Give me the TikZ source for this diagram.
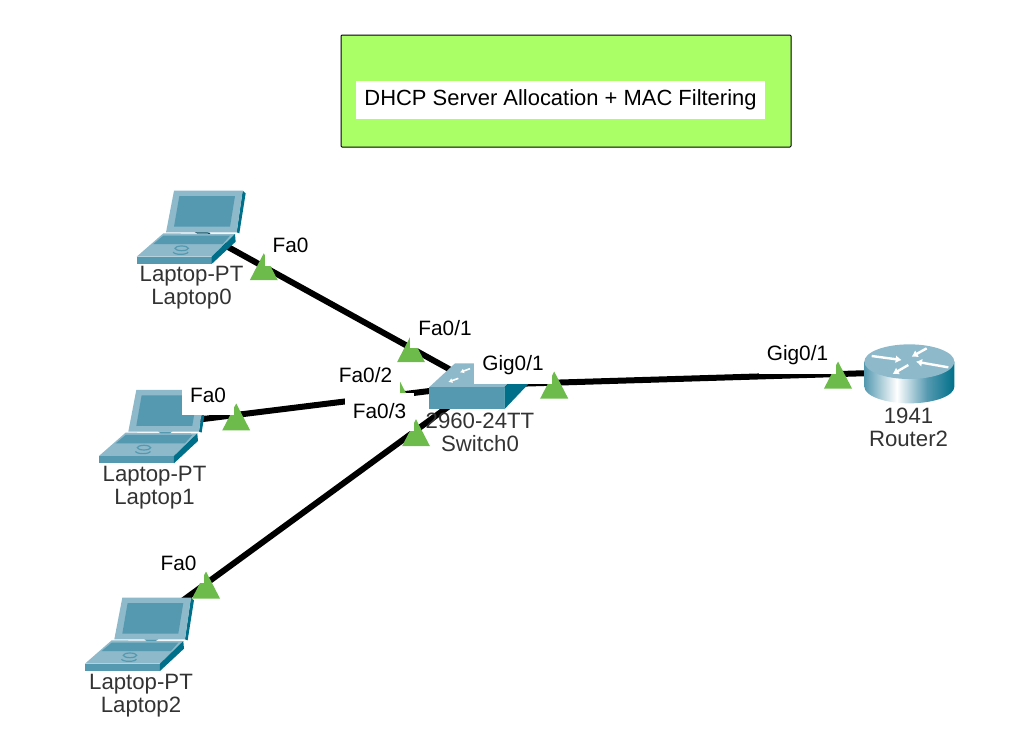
\documentclass[tikz,border=0pt]{standalone}
\usepackage{fontspec}
\setmainfont{Liberation Sans}
\usetikzlibrary{shapes.geometric, arrows.meta}
\definecolor{ptlight}{HTML}{8DB9CA}
\definecolor{ptmid}{HTML}{5499B0}
\definecolor{ptdark}{HTML}{00708A}
\definecolor{ptgreen}{HTML}{6CBB4B}
\definecolor{ptnote}{HTML}{AAFF66}
\pgfdeclarehorizontalshading{routerside}{100bp}{
  color(0bp)=(ptmid); color(25bp)=(ptmid); color(43bp)=(white);
  color(60bp)=(ptmid); color(75bp)=(ptdark); color(100bp)=(ptdark)}
\tikzset{
  laptop/.pic={
    \begin{scope}[x=0.3333pt, y=-0.3333pt, shift={(-210,-168)}]
      \fill[ptdark] (368,62)--(377,70)--(358,190)--(350,187)--cycle;
      \fill[ptlight] (162,62)--(368,62)--(350,187)--(138,187)--cycle;
      \fill[ptmid] (178,78)--(345,78)--(330,170)--(162,170)--cycle;
      \fill[ptlight] (50,260)--(130,190)--(345,192)--(275,260)--cycle;
      \fill[ptmid] (100,222)--(130,197)--(330,197)--(308,222)--cycle;
      \fill[ptmid] (228,187)--(270,187)--(262,192)--(235,192)--cycle;
      \fill[ptmid] (50,260)--(275,260)--(275,282)--(50,282)--cycle;
      \fill[ptdark] (275,260)--(345,192)--(347,215)--(275,282)--cycle;
      \draw[ptmid, line width=1.2pt] (185,235) ellipse (20 and 7);
      \draw[ptmid, line width=1.2pt] (160,246) arc (180:0:22 and 7);
    \end{scope}
  },
  switchbox/.pic={
    \begin{scope}[x=0.3333pt, y=-0.3333pt, shift={(-474,-225)}]
      \fill[ptlight] (327,232)--(405,160)--(625,160)--(553,232)--cycle;
      \fill[ptmid] (327,232)--(553,232)--(553,298)--(327,298)--cycle;
      \fill[ptdark] (553,232)--(625,160)--(625,222)--(553,298)--cycle;
      \draw[swarrow] (415,205)--(385,216);
      \draw[swarrow] (450,176)--(420,187);
    \end{scope}
  },
  routerdrum/.pic={
    \begin{scope}[x=0.3333pt, y=-0.3333pt, shift={(-465,-126)}]
      \shade[shading=routerside] (343,95)--(343,170) arc (180:0:135 and 50)--(613,95)--cycle;
      \fill[ptlight] (478,95) ellipse (135 and 52);
      \draw[rtarrow] (365,78)--(455,90);
      \draw[rtarrow] (475,105)--(428,132);
      \draw[rtarrow] (530,55)--(485,80);
      \draw[rtarrow] (595,112)--(498,95);
    \end{scope}
  },
  swarrow/.style={draw=white, line width=1.6pt, -{Latex[length=4pt,width=5pt]}},
  rtarrow/.style={draw=white, line width=2.4pt, -{Latex[length=6pt,width=8pt]}},
}
\begin{document}
\begin{tikzpicture}[
  x=1pt, y=-1pt,
  cable/.style={draw=black, line width=6pt},
  portmark/.style={isosceles triangle, shape border rotate=90,
    isosceles triangle stretches, fill=ptgreen, draw=none, inner sep=0pt,
    minimum width=28pt, minimum height=27pt, anchor=apex},
  porttag/.style={fill=white, font=\fontsize{20.8}{24}\selectfont, text=black,
    inner xsep=8pt, inner ysep=4pt, text height=13pt, text depth=9pt, anchor=base},
  device/.style={align=center, text=black!80,
    font=\fontsize{22.2}{23}\selectfont, inner sep=0pt},
  notebox/.style={rectangle, draw=black, line width=1pt, rounded corners=1pt,
    fill=ptnote, minimum width=450pt, minimum height=112pt},
  notetext/.style={fill=white, text=black, font=\fontsize{21.95}{25}\selectfont,
    minimum width=409pt, minimum height=38pt, inner sep=0pt}
]
  \useasboundingbox (0,0) rectangle (1032,734);

  % Note at the top.
  \node[notebox] (note) at (566,91) {};
  \node[notetext] (notelabel) at (560.5,99.6) {DHCP Server Allocation + MAC Filtering};

  % Device centres.
  \coordinate (laptop0) at (190,226);
  \coordinate (laptop1) at (152.3,425.3);
  \coordinate (laptop2) at (138.3,633);
  \coordinate (switch0) at (478,385);
  \coordinate (router2) at (905,372);

  % Cables.
  \draw[cable] (laptop0)--(switch0);
  \draw[cable] (laptop1)--(switch0);
  \draw[cable] (laptop2)--(switch0);
  \draw[cable] (switch0)--(router2);

  % Link lights.
  \node[portmark] (mark0) at (263.8,252.7) {};
  \node[portmark] (mark1) at (236.2,402.9) {};
  \node[portmark] (mark2) at (206,571) {};
  \node[portmark] (markf1) at (411,334.7) {};
  \node[portmark] (markf2) at (400,381) {};
  \node[portmark] (markf3) at (416,418.7) {};
  \node[portmark] (markg1) at (554.2,371) {};
  \node[portmark] (markr) at (838,361) {};

  % Device icons.
  \pic at (laptop0) {laptop};
  \pic at (laptop1) {laptop};
  \pic at (laptop2) {laptop};
  \pic at (switch0) {switchbox};
  \pic at (router2) {routerdrum};

  % Device names.
  \node[device] (name0) at (191.5,288) {Laptop-PT\\Laptop0};
  \node[device] (name1) at (154.5,487.5) {Laptop-PT\\Laptop1};
  \node[device] (name2) at (141,696) {Laptop-PT\\Laptop2};
  \node[device] (name3) at (480,432) {2960-24TT\\Switch0};
  \node[device] (name4) at (908.5,427.5) {1941\\Router2};

  % Port names.
  \node[porttag] (port0) at (290.5,252.7) {Fa0};
  \node[porttag] (port1) at (208,402) {Fa0};
  \node[porttag] (port2) at (178.5,570) {Fa0};
  \node[porttag] (portf1) at (445,335) {Fa0/1};
  \node[porttag] (portf2) at (365.5,382.7) {Fa0/2};
  \node[porttag, text height=21pt] (portf3) at (379.5,418) {Fa0/3};
  \node[porttag] (portg1) at (513,370.7) {Gig0/1};
  \node[porttag] (portr) at (797.5,360.7) {Gig0/1};
\end{tikzpicture}
\end{document}
